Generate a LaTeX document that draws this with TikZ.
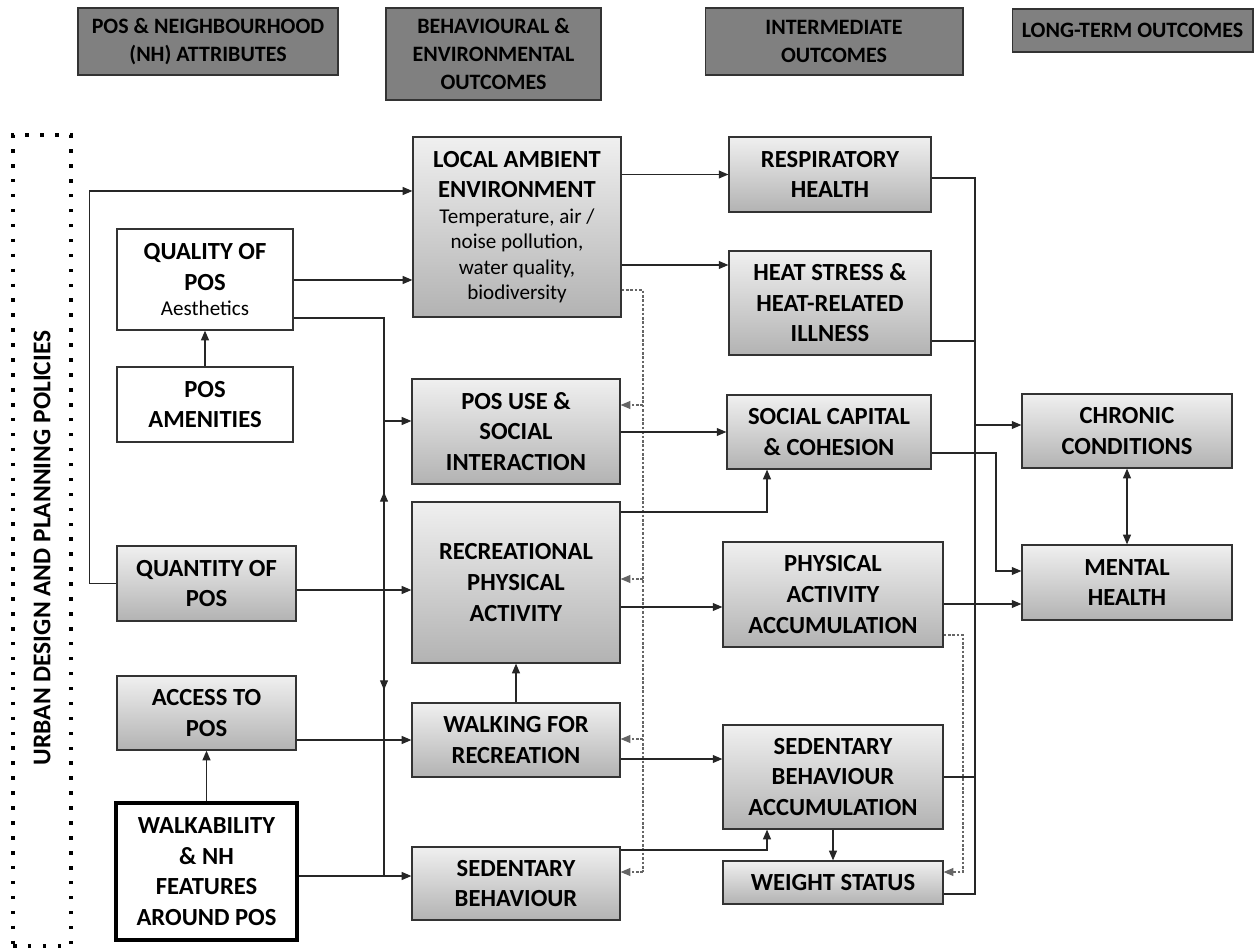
\documentclass[tikz,border=0pt]{standalone}
\usepackage{fontspec}
\setmainfont{Carlito}
\usetikzlibrary{arrows.meta}

\newcommand{\subtxt}{\normalfont\fontsize{12}{14.5}\selectfont}

\tikzset{
  pbox/.style 2 args={draw=black!80, line width=0.7pt, align=flush center, inner sep=0pt,
    minimum width=#1, minimum height=#2, text width=#1,
    font=\bfseries\fontsize{14}{17.4}\selectfont},
  gbox/.style 2 args={pbox={#1}{#2}, top color=gray!12, bottom color=gray!60},
  wbox/.style 2 args={pbox={#1}{#2}, fill=white},
  hdr/.style 2 args={pbox={#1}{#2}, fill=gray, line width=0.6pt,
    font=\bfseries\fontsize{12.5}{16}\selectfont},
  line/.style={draw=black!85, line width=0.75pt},
  dline/.style={draw=black!60, line width=0.6pt, dash pattern=on 1.5pt off 1pt},
}

\begin{document}
\begin{tikzpicture}[x=0.02cm, y=-0.02cm, >={Triangle[length=5.5pt,width=4.5pt]}]
    \useasboundingbox (0,0) rectangle (1254,949);

    % column headers
    \node[hdr={5.2cm}{1.34cm}] (hattr) at (208,41.5) {POS \& NEIGHBOURHOOD\\ (NH) ATTRIBUTES};
    \node[hdr={4.3cm}{1.84cm}] (hbeh) at (493.5,54) {BEHAVIOURAL \&\\ ENVIRONMENTAL\\ OUTCOMES};
    \node[hdr={5.16cm}{1.34cm}] (hint) at (834,41.5) {INTERMEDIATE\\ OUTCOMES};
    \node[hdr={4.82cm}{0.86cm}] (hlong) at (1132.5,30.5) {LONG-TERM OUTCOMES};

    % policy frame
    \node[draw, line width=2pt, dash pattern=on 2pt off 6.5pt, inner sep=0pt,
          minimum width=1.16cm, minimum height=16.22cm] (frame) at (42,540.5) {};
    \node[rotate=90, font=\bfseries\fontsize{14.5}{17}\selectfont] (policy) at (42,548)
        {URBAN DESIGN AND PLANNING POLICIES};

    % attributes
    \node[wbox={3.52cm}{2.02cm}] (qual) at (205,279.5) {QUALITY OF\\ POS\par{\subtxt Aesthetics\par}};
    \node[wbox={3.52cm}{1.5cm}] (amen) at (205,404.5) {POS\\ AMENITIES};
    \node[gbox={3.58cm}{1.5cm}] (quan) at (206.5,583.5) {QUANTITY OF\\ POS};
    \node[gbox={3.58cm}{1.48cm}] (acc) at (206.5,713) {ACCESS TO\\ POS};
    \node[wbox={3.62cm}{2.74cm}, draw=black, line width=2pt] (walk) at (206.5,871.5)
        {WALKABILITY\\ \& NH\\ FEATURES\\ AROUND POS};

    % behavioural and environmental outcomes
    \node[gbox={4.16cm}{3.6cm}] (lae) at (517,227)
        {LOCAL AMBIENT\\ ENVIRONMENT\par{\subtxt Temperature, air /\\ noise pollution,\\ water quality,\\ biodiversity\par}};
    \node[gbox={4.16cm}{2.1cm}] (posuse) at (516,431.5) {POS USE \&\\ SOCIAL\\ INTERACTION};
    \node[gbox={4.16cm}{3.22cm}] (recpa) at (516,582.5) {RECREATIONAL\\ PHYSICAL\\ ACTIVITY};
    \node[gbox={4.16cm}{1.48cm}] (walkrec) at (516,740) {WALKING FOR\\ RECREATION};
    \node[gbox={4.16cm}{1.46cm}] (sedb) at (516,883.5) {SEDENTARY\\ BEHAVIOUR};

    % intermediate outcomes
    \node[gbox={4.04cm}{1.5cm}] (resp) at (830,174.5) {RESPIRATORY\\ HEALTH};
    \node[gbox={4.04cm}{2.08cm}] (heat) at (830,303) {HEAT STRESS \&\\ HEAT-RELATED\\ ILLNESS};
    \node[gbox={4.08cm}{1.48cm}] (social) at (829,432) {SOCIAL CAPITAL\\ \& COHESION};
    \node[gbox={4.4cm}{2.1cm}] (paacc) at (833,594.5) {PHYSICAL\\ ACTIVITY\\ ACCUMULATION};
    \node[gbox={4.4cm}{2.08cm}] (sbacc) at (833,777) {SEDENTARY\\ BEHAVIOUR\\ ACCUMULATION};
    \node[gbox={4.4cm}{0.86cm}] (weight) at (833,882.5) {WEIGHT STATUS};

    % long-term outcomes
    \node[gbox={4.2cm}{1.48cm}] (chronic) at (1127,431) {CHRONIC\\ CONDITIONS};
    \node[gbox={4.2cm}{1.5cm}] (mental) at (1127,582.5) {MENTAL\\ HEALTH};

    \coordinate (spine) at (384,0);
    \coordinate (dsh) at (643,0);
    \coordinate (bus) at (975,0);

    % attributes -> behaviours
    \draw[line,->] (quan.west) -- ++(-27,0) |- (lae.west |- 0,191);
    \draw[line,->] (qual.east |- 0,280) -- (lae.west |- 0,280);
    \draw[line,->] (amen.north) -- (qual.south);
    \draw[line,->] (qual.east |- 0,318) -| (spine |- 0,690);
    \draw[line,->] (spine |- 0,876) -- (spine |- 0,492);
    \draw[line,->] (spine |- 0,421) -- (posuse.west |- 0,421);
    \draw[line,->] (quan.east |- 0,590) -- (recpa.west |- 0,590);
    \draw[line,->] (acc.east |- walkrec.west) -- (walkrec.west);
    \draw[line,->] (walk.north -| acc.south) -- (acc.south);
    \draw[line,->] (walk.east |- 0,876) -- (sedb.west |- 0,876);
    \draw[line,->] (walkrec.north) -- (recpa.south);

    % environment -> health
    \draw[line,->] (lae.east |- resp.west) -- (resp.west);
    \draw[line,->] (lae.east |- 0,265) -- (heat.west |- 0,265);
    \draw[dline] (lae.east |- 0,290) -| (dsh |- 0,872);
    \draw[dline,->] (dsh |- 0,405) -- (posuse.east |- 0,405);
    \draw[dline,->] (dsh |- 0,579) -- (recpa.east |- 0,579);
    \draw[dline,->] (dsh |- 0,739) -- (walkrec.east |- 0,739);
    \draw[dline,->] (dsh |- 0,872) -- (sedb.east |- 0,872);

    % behaviours -> intermediate
    \draw[line,->] (posuse.east |- social.west) -- (social.west);
    \draw[line,->] (recpa.east |- 0,512) -| (social.south -| 767,0);
    \draw[line,->] (recpa.east |- 0,607) -- (paacc.west |- 0,607);
    \draw[line,->] (walkrec.east |- 0,759) -- (sbacc.west |- 0,759);
    \draw[line,->] (sedb.east |- 0,850) -| (sbacc.south -| 767,0);
    \draw[line,->] (sbacc.south) -- (weight.north);
    \draw[dline,->] (paacc.east |- 0,635) -| (963,872) -- (weight.east |- 0,872);

    % intermediate -> long-term
    \draw[line] (resp.east |- 0,178) -| (bus |- 0,894) -- (weight.east |- 0,894);
    \draw[line] (heat.east |- 0,341) -- (bus |- 0,341);
    \draw[line] (sbacc.east |- 0,777) -- (bus |- 0,777);
    \draw[line,->] (bus |- 0,425) -- (chronic.west |- 0,425);
    \draw[line,->] (social.east |- 0,453) -| (996,571) -- (mental.west |- 0,571);
    \draw[line,->] (paacc.east |- 0,604) -- (mental.west |- 0,604);
    \draw[line,<->] (chronic.south) -- (mental.north);
\end{tikzpicture}
\end{document}
